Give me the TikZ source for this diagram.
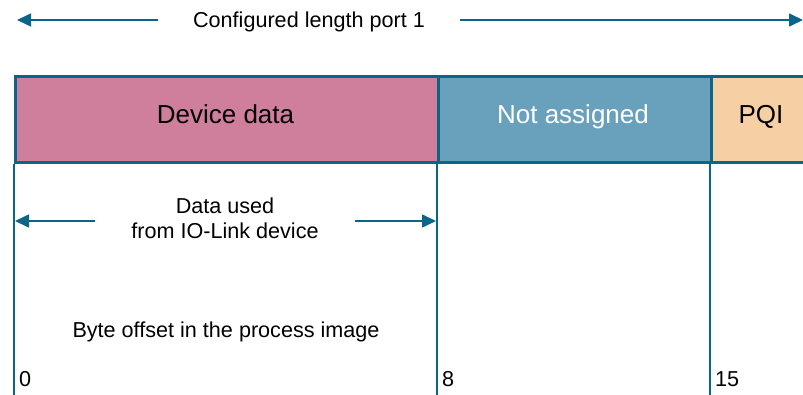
\documentclass[tikz,border=0pt]{standalone}
\usepackage{fontspec}
\setmainfont{Liberation Sans}
\usetikzlibrary{arrows.meta}
\definecolor{frame}{HTML}{0B6589}
\definecolor{pinkf}{HTML}{CF7E9C}
\definecolor{bluef}{HTML}{69A1BC}
\definecolor{peachf}{HTML}{F6CFA4}
\tikzset{
  field/.style={draw=frame, line width=3pt, minimum height=86pt, inner sep=0pt, anchor=north west},
  big/.style={font=\fontsize{26}{30}\selectfont, inner sep=0pt, anchor=base},
  dimarrow/.style={draw=frame, line width=1.6pt, -{Triangle[length=14pt,width=13pt]}},
  tick/.style={draw=frame, line width=1.4pt},
  lbl/.style={font=\fontsize{21.6}{25}\selectfont, inner sep=0pt, anchor=base},
}
\begin{document}
\begin{tikzpicture}[x=1pt,y=-1pt]
\useasboundingbox (0,0) rectangle (803,395);
\clip (0,0) rectangle (803,395);
% top dimension
\node[lbl] (cfg) at (309,27.5) {Configured length port 1};
\coordinate (cl) at (17,20);
\coordinate (cr) at (803,20);
\coordinate (cls) at (158,20);
\coordinate (crs) at (460,20);
\draw[dimarrow] (cls) -- (cl);
\draw[dimarrow] (crs) -- (cr);
% fields
\node[field, fill=pinkf, minimum width=423pt] (dev) at (14,75) {};
\node[field, fill=bluef, minimum width=273pt] (na) at (437,75) {};
\node[field, fill=peachf, minimum width=120pt] (pqi) at (710,75) {};
\node[big] (devt) at (225.5,124) {Device data};
\node[big, text=white] (nat) at (573,124) {Not assigned};
\node[big] (pqit) at (761,124) {PQI};
% ticks
\coordinate (t0) at (14,395);
\coordinate (t8) at (437,395);
\coordinate (t15) at (710,395);
\draw[tick] (dev.south west) -- (t0);
\draw[tick] (na.south west) -- (t8);
\draw[tick] (pqi.south west) -- (t15);
% data used
\node[lbl] (du1) at (225,213.3) {Data used};
\node[lbl] (du2) at (225,238.2) {from IO-Link device};
\coordinate (dl) at (15,221);
\coordinate (dr) at (436,221);
\coordinate (dls) at (95,221);
\coordinate (drs) at (355,221);
\draw[dimarrow] (dls) -- (dl);
\draw[dimarrow] (drs) -- (dr);
% byte offset
\node[lbl] (bo) at (226,337) {Byte offset in the process image};
\node[lbl, anchor=base west] (n0) at (19,386) {0};
\node[lbl, anchor=base west] (n8) at (442,386) {8};
\node[lbl, anchor=base west] (n15) at (715,386) {15};
\end{tikzpicture}
\end{document}
